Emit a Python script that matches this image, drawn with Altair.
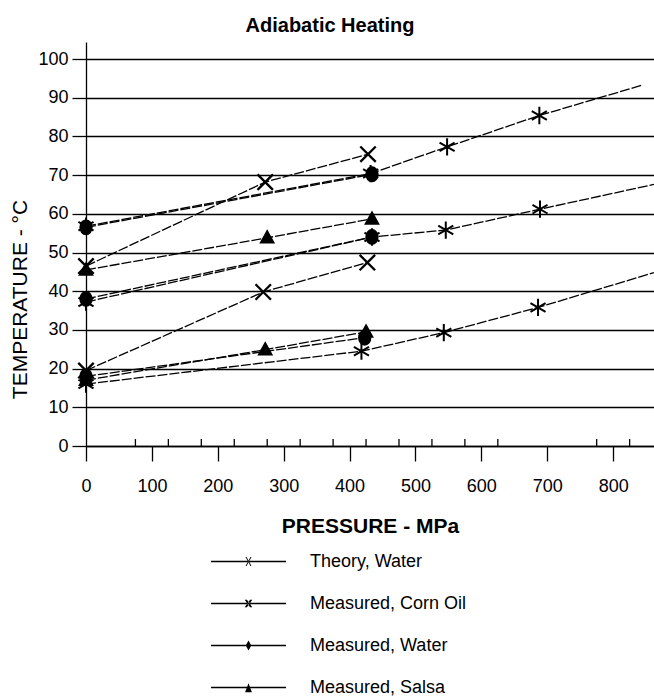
import altair as alt
import pandas as pd

FONT = "Liberation Sans"

series_names = ["Theory, Water", "Measured, Corn Oil", "Measured, Water", "Measured, Salsa"]

# Theory, Water: three starting temperatures (last point = end of the computed curve, no marker)
theory_p = [[0, 432, 548, 688, 845], [0, 434, 546, 689, 862], [0, 418, 543, 686, 862]]
theory_t = [[56.8, 70.4, 77.3, 85.4, 93.3], [37.2, 54.0, 55.8, 61.2, 67.6], [16.0, 24.5, 29.3, 35.8, 44.8]]
theory_marker = [[1, 1, 1, 1, 0], [1, 1, 1, 1, 0], [1, 1, 1, 1, 0]]

# Measured, Corn Oil
corn_p = [[0, 272, 428], [0, 269, 427]]
corn_t = [[46.5, 68.2, 75.4], [19.5, 39.8, 47.4]]

# Measured, Water
water_p = [[0, 434], [0, 434], [0, 423]]
water_t = [[56.5, 70.2], [38.0, 54.0], [18.0, 28.0]]

# Measured, Salsa
salsa_p = [[0, 275, 434], [0, 272, 425]]
salsa_t = [[45.5, 53.8, 58.7], [17.0, 24.9, 29.5]]

y_ticks = [0, 10, 20, 30, 40, 50, 60, 70, 80, 90, 100]
x_ticks = [0, 50, 100, 150, 200, 250, 300, 350, 400, 450, 500, 550, 600, 650, 700, 750, 800, 850]
x_minor_ticks = [75, 125, 175, 225, 275, 325, 375, 425, 475, 525, 575, 625, 775, 825]

rows = []
def add(series, plist, tlist, marks=None):
    for g, (ps, ts) in enumerate(zip(plist, tlist)):
        for i, (p, t) in enumerate(zip(ps, ts)):
            m = 1 if marks is None else marks[g][i]
            rows.append({"series": series, "line_id": f"{series}-{g}", "idx": i, "p": p, "t": t, "marker": m})

add(series_names[0], theory_p, theory_t, theory_marker)
add(series_names[1], corn_p, corn_t)
add(series_names[2], water_p, water_t)
add(series_names[3], salsa_p, salsa_t)
df = pd.DataFrame(rows)
minor_df = pd.DataFrame({"p": x_minor_ticks})

# marker glyphs in the plot
marker_paths = [
    "M0,-1V1M-0.87,-0.5L0.87,0.5M-0.87,0.5L0.87,-0.5",
    "M-1,-1L1,1M-1,1L1,-1",
    "M0,-1A0.8,1 0 1,1 0,1A0.8,1 0 1,1 0,-1Z",
    "M0,-1L1,0.8L-1,0.8Z",
]
marker_sizes = [300, 115, 100, 120]
marker_widths = [2, 3, 1, 1]

# legend glyphs drawn as filled outlines: line sample with small marker (unit = 10 px at size 400)
LINE = "M-3.75,-0.08H3.75V0.08H-3.75Z"
legend_paths = [
    LINE + "M-0.3,-0.45L-0.2,-0.45L0.3,0.45L0.2,0.45ZM0.3,-0.45L0.2,-0.45L-0.3,0.45L-0.2,0.45Z",
    LINE + "M-0.38,-0.38L-0.16,-0.38L0.38,0.38L0.16,0.38ZM0.38,-0.38L0.16,-0.38L-0.38,0.38L-0.16,0.38Z",
    LINE + "M0,-0.5L0.28,0L0,0.5L-0.28,0Z",
    LINE + "M0,-0.42L0.34,0.48L-0.34,0.48Z",
]

x_scale = alt.Scale(domain=[0, 862], nice=False, zero=False)
y_scale = alt.Scale(domain=[0, 104.4], nice=False)

x_enc = alt.X(
    "p:Q", scale=x_scale, title="PRESSURE - MPa",
    axis=alt.Axis(
        values=x_ticks, labelExpr="datum.value % 100 == 0 ? datum.label : ''",
        grid=False, tickSize=15, tickColor="black", tickWidth=1.3,
        domainColor="black", domainWidth=1.3, labelFlush=False, labelOverlap=False,
        labelFont=FONT, labelFontSize=18, labelColor="black", labelPadding=16,
        titleFont=FONT, titleFontSize=21, titleFontWeight="bold", titleColor="black", titlePadding=20,
    ),
)
y_enc = alt.Y(
    "t:Q", scale=y_scale, title="TEMPERATURE - °C",
    axis=alt.Axis(
        values=y_ticks, grid=True, gridColor="black", gridWidth=1.3, gridOpacity=1,
        tickSize=14, tickColor="black", tickWidth=1.3,
        domainColor="black", domainWidth=1.3, labelFlush=False, labelOverlap=False,
        labelFont=FONT, labelFontSize=18, labelColor="black", labelPadding=4,
        titleFont=FONT, titleFontSize=21, titleFontWeight="normal", titleColor="black", titlePadding=7,
        titleY=257,
    ),
)

base = alt.Chart(df)

minor = alt.Chart(minor_df).mark_rule(color="black", strokeWidth=1.3).encode(
    x=alt.X("p:Q", scale=x_scale), y=alt.datum(0), y2=alt.datum(1.8)
)

lines = base.mark_line(color="black", strokeWidth=1.3, strokeDash=[10, 2]).encode(
    x=x_enc, y=y_enc, detail="line_id:N", order="idx:Q"
)

points = base.transform_filter("datum.marker == 1").mark_point(
    filled=True, opacity=1, color="black", stroke="black"
).encode(
    x=x_enc, y=y_enc,
    shape=alt.Shape("series:N", scale=alt.Scale(domain=series_names, range=marker_paths), legend=None),
    size=alt.Size("series:O", scale=alt.Scale(domain=series_names, range=marker_sizes), legend=None),
    strokeWidth=alt.StrokeWidth("series:O", scale=alt.Scale(domain=series_names, range=marker_widths), legend=None),
)

legend_layer = base.transform_filter("false").mark_point(
    filled=True, opacity=1, color="black", size=400
).encode(
    x=x_enc, y=y_enc,
    shape=alt.Shape(
        "series:N",
        scale=alt.Scale(domain=series_names, range=legend_paths),
        legend=alt.Legend(
            title=None, orient="none", legendX=151.5, legendY=508.5, direction="vertical",
            symbolSize=400, symbolFillColor="black", symbolOpacity=1,
            labelFont=FONT, labelFontSize=18, labelColor="black", labelOffset=50.5,
            labelLimit=400, rowPadding=22, padding=0,
        ),
    ),
)

chart = (
    alt.layer(minor, lines, points, legend_layer)
    .resolve_scale(shape="independent")
    .properties(
        width=568, height=404,
        autosize=alt.AutoSizeParams(type="none"),
        padding={"left": 86, "top": 42, "right": 0, "bottom": 253},
        title=alt.Title(
            "Adiabatic Heating", font=FONT, fontSize=20, fontWeight="bold", color="black",
            anchor="middle", dx=-40, offset=6,
        ),
        background="white",
    )
    .configure_view(stroke=None)
)

chart.save("out.html", embed_options={"renderer": "svg", "actions": False})
